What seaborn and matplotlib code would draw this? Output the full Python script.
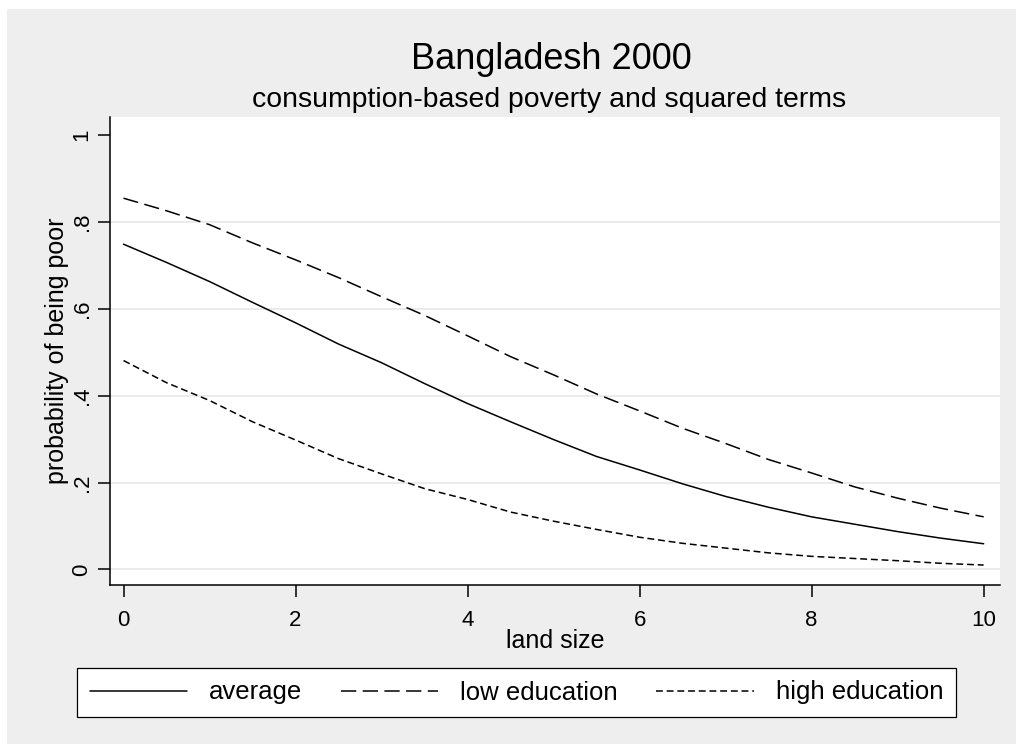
import matplotlib
matplotlib.use("Agg")
import matplotlib.pyplot as plt
from matplotlib.patches import Rectangle
import pandas as pd
import seaborn as sns

# Predicted probability of being poor by land size, for three education profiles
land_size = [0, 0.5, 1, 1.5, 2, 2.5, 3, 3.5, 4, 4.5, 5,
             5.5, 6, 6.5, 7, 7.5, 8, 8.5, 9, 9.5, 10]
p_average = [0.749, 0.707, 0.663, 0.615, 0.568, 0.519, 0.476, 0.428, 0.382, 0.340, 0.299,
             0.260, 0.229, 0.197, 0.168, 0.143, 0.121, 0.104, 0.087, 0.072, 0.059]
p_low_edu = [0.855, 0.826, 0.794, 0.752, 0.713, 0.672, 0.628, 0.585, 0.538, 0.490, 0.448,
             0.404, 0.365, 0.325, 0.290, 0.253, 0.222, 0.190, 0.164, 0.141, 0.121]
p_high_edu = [0.481, 0.430, 0.389, 0.340, 0.298, 0.255, 0.220, 0.186, 0.161, 0.132, 0.111,
              0.092, 0.074, 0.060, 0.049, 0.038, 0.030, 0.025, 0.020, 0.014, 0.010]

series_names = ["average", "low education", "high education"]
x_ticks = [0, 2, 4, 6, 8, 10]
y_ticks = [0, 0.2, 0.4, 0.6, 0.8, 1]
y_tick_labels = ["0", ".2", ".4", ".6", ".8", "1"]
grid_levels = [0, 0.2, 0.4, 0.6, 0.8]

df = pd.DataFrame({
    "land": land_size * 3,
    "prob": p_average + p_low_edu + p_high_edu,
    "group": [n for n in series_names for _ in land_size],
})

sns.set_style("ticks")
plt.rcParams["font.family"] = ["Liberation Sans", "DejaVu Sans"]
plt.rcParams.update({
    "text.color": "black",
    "axes.labelcolor": "black",
    "xtick.color": "black",
    "ytick.color": "black",
    "xtick.labelcolor": "black",
    "ytick.labelcolor": "black",
})

W, H = 1016, 744
fig = plt.figure(figsize=(W / 100, H / 100), dpi=100)
fig.patch.set_facecolor("white")
fig.add_artist(Rectangle((7 / W, 0), 1 - 7 / W, 1 - 9 / H, transform=fig.transFigure,
                         facecolor="#eeeeee", edgecolor="none", zorder=-10))

ax = fig.add_axes([110 / W, 1 - 585 / H, 890 / W, 468 / H])
ax.set_facecolor("white")

for v in grid_levels:
    ax.axhline(v, color="#e6e6e6", lw=1.1, zorder=0)

sns.lineplot(data=df, x="land", y="prob", style="group", style_order=series_names,
             dashes={"average": "", "low education": (10, 4.2), "high education": (4.5, 2.5)},
             color="black", linewidth=1.1, estimator=None, sort=False, ax=ax, legend=True)

ax.set_xlim(-0.157, 10.19)
ax.set_ylim(-0.036, 1.042)
ax.set_xticks(x_ticks)
ax.set_xticklabels([str(t) for t in x_ticks])
ax.set_yticks(y_ticks)
ax.set_yticklabels(y_tick_labels, rotation=90, va="center")
ax.tick_params(axis="both", direction="out", length=8.6, width=1.1, color="black",
               labelcolor="black", labelsize=16)
ax.tick_params(axis="y", pad=4)
ax.tick_params(axis="x", pad=9.5)

for side in ["top", "right"]:
    ax.spines[side].set_visible(False)
for side in ["left", "bottom"]:
    ax.spines[side].set_linewidth(1.1)
    ax.spines[side].set_color("black")

ax.set_xlabel("land size", fontsize=18, color="black")
ax.set_ylabel("probability of being poor", fontsize=18, color="black")
ax.xaxis.set_label_coords(0.5, -0.094)
ax.yaxis.set_label_coords(-0.046, 0.5)

fig.text(551 / W, 1 - 69 / H, "Bangladesh 2000", ha="center", va="baseline",
         fontsize=26, color="black")
fig.text(549 / W, 1 - 107 / H, "consumption-based poverty and squared terms",
         ha="center", va="baseline", fontsize=20.4, color="black")

handles, labels = ax.get_legend_handles_labels()
ax.get_legend().remove()
for h in handles:
    h.set_linewidth(1.1)
    h.set_color("black")
leg = fig.legend(handles, labels, loc="center", bbox_to_anchor=(516.5 / W, 1 - 692.5 / H),
                 ncol=3, frameon=True, fancybox=False, edgecolor="black", facecolor="white",
                 framealpha=1, fontsize=18.5, handlelength=3.8, handletextpad=0.85,
                 columnspacing=1.5, borderpad=0.47, borderaxespad=0, labelcolor="black")
leg.get_frame().set_linewidth(0.9)

fig.savefig("out.png", dpi=100, facecolor=fig.get_facecolor())
